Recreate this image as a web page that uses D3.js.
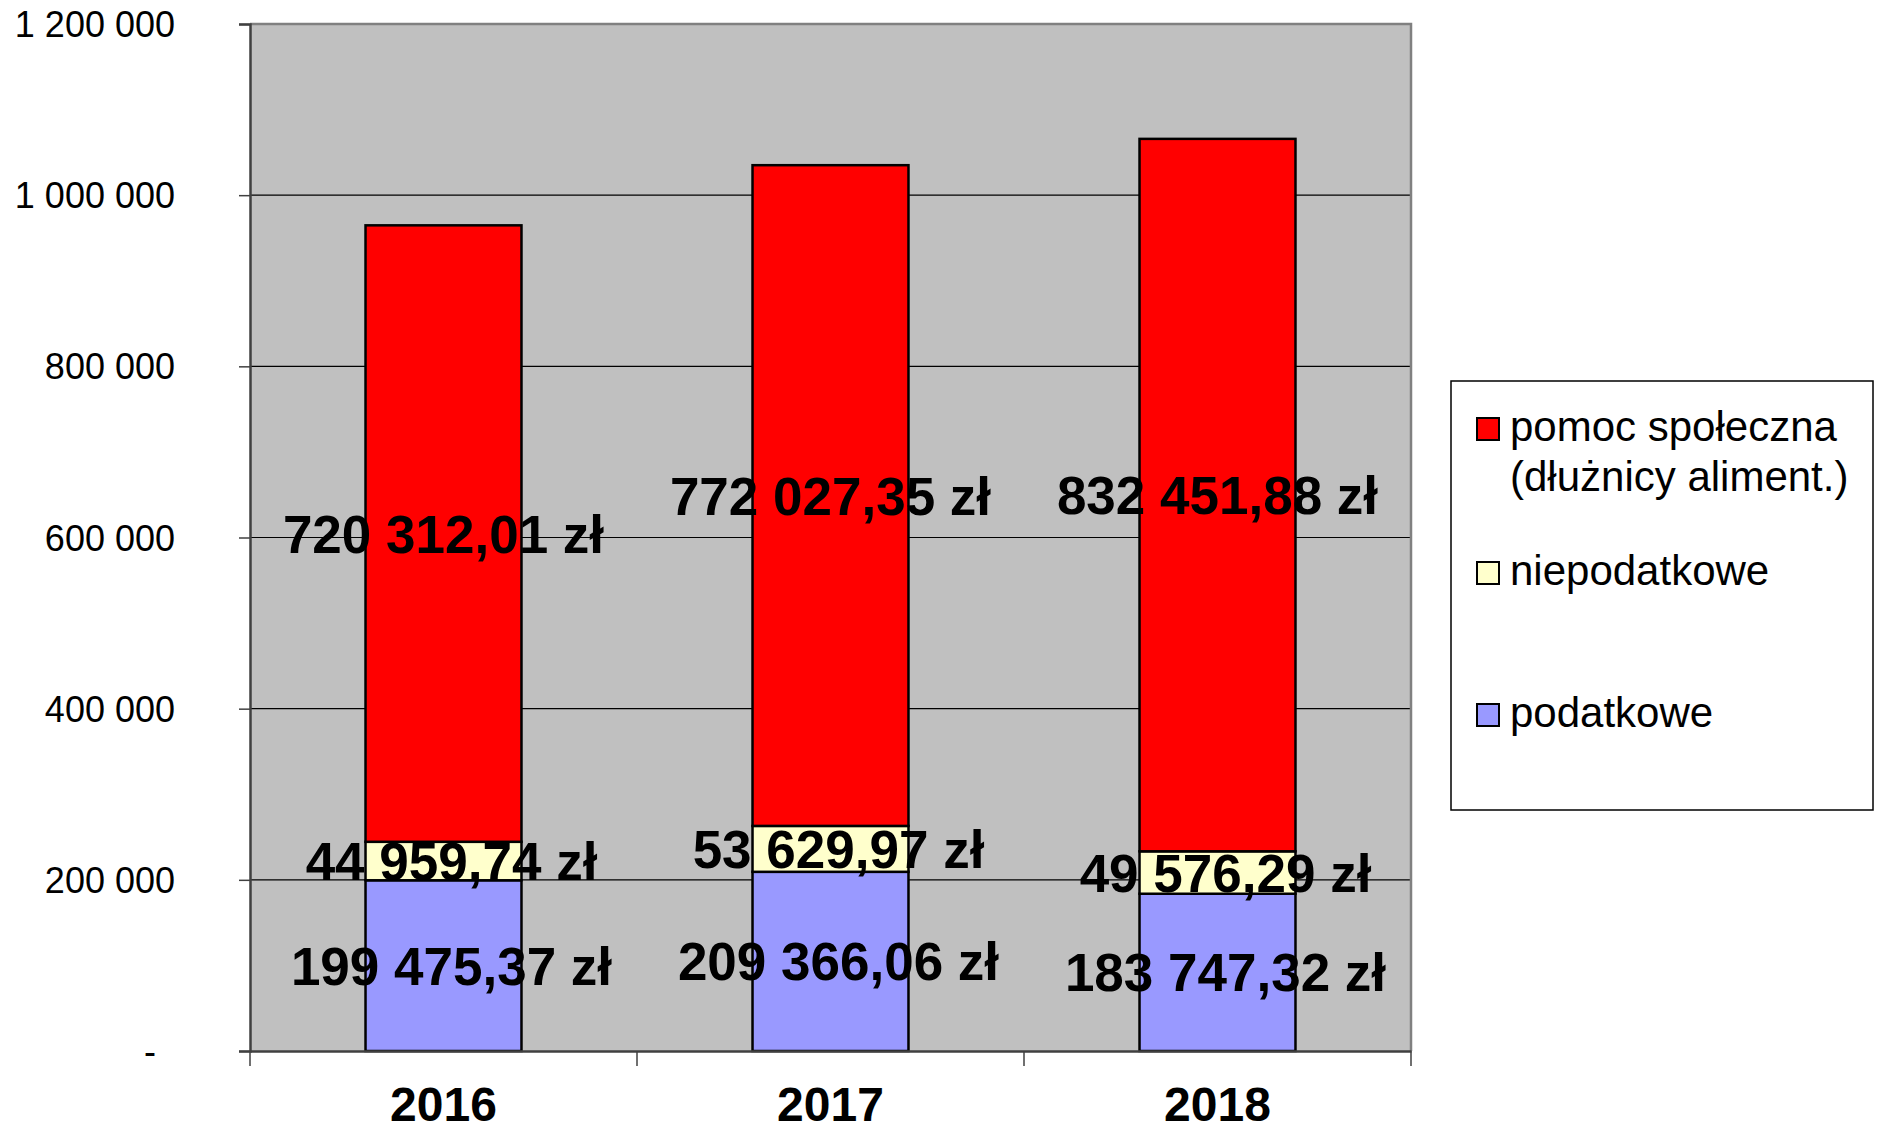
<!DOCTYPE html>
<html>
<head>
<meta charset="utf-8">
<script src="https://cdn.jsdelivr.net/npm/d3@7"></script>
<style>
  html, body { margin: 0; padding: 0; background: #fff; }
  svg { display: block; }
  text { font-family: "Liberation Sans", Arial, sans-serif; }
</style>
</head>
<body>
<svg id="chart" width="1879" height="1133"></svg>
<script>
const years = ["2016", "2017", "2018"];
const seriesNames = ["podatkowe", "niepodatkowe", "pomoc społeczna (dłużnicy aliment.)"];
const podatkowe = [199475.37, 209366.06, 183747.32];
const niepodatkowe = [44959.74, 53629.97, 49576.29];
const pomocSpoleczna = [720312.01, 772027.35, 832451.88];
const seriesColors = ["#9999FF", "#FFFFCC", "#FF0000"];
const yTicks = [0, 200000, 400000, 600000, 800000, 1000000, 1200000];
const yTickLabels = ["-", "200 000", "400 000", "600 000", "800 000", "1 000 000", "1 200 000"];
const legendLines = [["pomoc społeczna", "(dłużnicy aliment.)"], ["niepodatkowe"], ["podatkowe"]];
const legendColors = ["#FF0000", "#FFFFCC", "#9999FF"];

const svg = d3.select("#chart");
const plot = { left: 250, right: 1411, top: 24, bottom: 1051 };

const x = d3.scaleBand().domain(years).range([plot.left, plot.right]).paddingInner(0.597).paddingOuter(0.2985);
const xOuter = d3.scaleBand().domain(years).range([plot.left, plot.right]).padding(0);
const y = d3.scaleLinear().domain([0, 1200000]).range([plot.bottom, plot.top]);

const table = years.map((yr, i) => ({ year: yr, s0: podatkowe[i], s1: niepodatkowe[i], s2: pomocSpoleczna[i] }));
const stack = d3.stack().keys(["s0", "s1", "s2"]);
const stacked = stack(table);

// plot background
svg.append("rect")
  .attr("x", plot.left).attr("y", plot.top)
  .attr("width", plot.right - plot.left).attr("height", plot.bottom - plot.top)
  .attr("fill", "#C0C0C0");

// gridlines
svg.append("g").selectAll("line").data(yTicks.filter(d => d > 0 && d < 1200000)).join("line")
  .attr("x1", plot.left).attr("x2", plot.right)
  .attr("y1", d => y(d)).attr("y2", d => y(d))
  .attr("stroke", "#000").attr("stroke-width", 1.2);

// plot border top/right
svg.append("path")
  .attr("d", `M${plot.left},${plot.top}H${plot.right}V${plot.bottom}`)
  .attr("fill", "none").attr("stroke", "#808080").attr("stroke-width", 2.5);

const fmt = v => {
  const parts = v.toFixed(2).split(".");
  const int = parts[0].replace(/\B(?=(\d{3})+(?!\d))/g, " ");
  return int + "," + parts[1] + " zł";
};

// bars
stacked.forEach((layer, si) => {
  svg.append("g").selectAll("rect").data(layer).join("rect")
    .attr("x", d => x(d.data.year))
    .attr("width", x.bandwidth())
    .attr("y", d => y(d[1]))
    .attr("height", d => y(d[0]) - y(d[1]))
    .attr("fill", seriesColors[si])
    .attr("stroke", "#000").attr("stroke-width", 2.5);
});

// y axis
const yAxis = d3.axisLeft(y).tickValues(yTicks).tickSize(11).tickFormat((d, i) => yTickLabels[i]);
const gy = svg.append("g").attr("transform", `translate(${plot.left},0)`).call(yAxis);
gy.select(".domain").attr("stroke", "#404040").attr("stroke-width", 2.5);
gy.selectAll(".tick line").attr("stroke", "#404040").attr("stroke-width", 1.5);
gy.selectAll(".tick text")
  .attr("x", -75).attr("dy", "0.35em")
  .attr("font-size", 36).attr("fill", "#000")
  .attr("font-family", "'Liberation Sans', Arial, sans-serif")
  .filter(d => d === 0).attr("x", -94);

// x axis
const xAxis = d3.axisBottom(xOuter).tickSize(0).tickFormat(() => "");
const gx = svg.append("g").attr("transform", `translate(0,${plot.bottom})`).call(xAxis);
gx.select(".domain").attr("stroke", "#404040").attr("stroke-width", 2.5);
gx.selectAll(".tick").remove();
const bounds = years.map(yr => xOuter(yr)).concat([plot.right]);
svg.append("g").selectAll("line").data(bounds).join("line")
  .attr("x1", d => d).attr("x2", d => d)
  .attr("y1", plot.bottom).attr("y2", plot.bottom + 15)
  .attr("stroke", "#404040").attr("stroke-width", 1.5);
svg.append("g").selectAll("text").data(years).join("text")
  .attr("x", d => xOuter(d) + xOuter.bandwidth() / 2)
  .attr("y", 1121)
  .attr("text-anchor", "middle")
  .attr("font-size", 48).attr("font-weight", "bold").attr("fill", "#000")
  .text(d => d);

// data labels
const labelShift = [8, 8, 0];
stacked.forEach((layer, si) => {
  svg.append("g").selectAll("text").data(layer).join("text")
    .attr("x", d => x(d.data.year) + x.bandwidth() / 2 + labelShift[si])
    .attr("y", d => y((d[0] + d[1]) / 2))
    .attr("dy", "0.36em")
    .attr("text-anchor", "middle")
    .attr("font-size", 53).attr("font-weight", "bold").attr("fill", "#000")
    .text(d => fmt(d[1] - d[0]));
});

// legend
const lg = svg.append("g");
lg.append("rect").attr("x", 1451).attr("y", 381).attr("width", 422).attr("height", 429)
  .attr("fill", "#fff").attr("stroke", "#000").attr("stroke-width", 1.5);
const legendBaselines = [441, 585, 727];
legendLines.forEach((lines, i) => {
  lg.append("rect").attr("x", 1477).attr("y", legendBaselines[i] - 23).attr("width", 22).attr("height", 22)
    .attr("fill", legendColors[i]).attr("stroke", "#000").attr("stroke-width", 2);
  const t = lg.append("text").attr("x", 1510).attr("y", legendBaselines[i])
    .attr("font-size", 42).attr("fill", "#000");
  lines.forEach((ln, j) => {
    t.append("tspan").attr("x", 1510).attr("dy", j === 0 ? 0 : 50).text(ln);
  });
});
</script>
</body>
</html>
